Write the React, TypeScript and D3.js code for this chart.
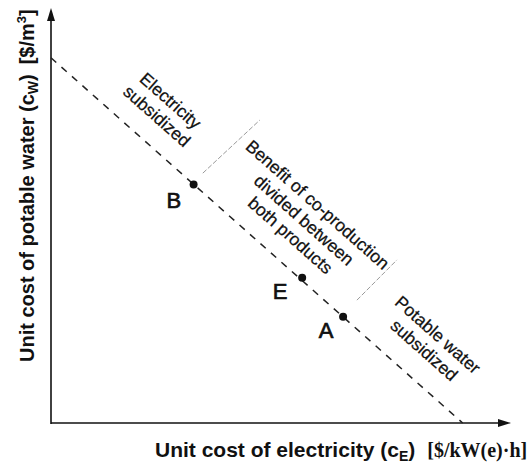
import React from "react";
import * as d3 from "d3";

// ---- data (abstract cost units) ----
const xDomain = [0, 100];
const yDomain = [0, 100];

// iso-cost line (dashed): [x, y]
const isoLine: [number, number][] = [
  [0, 88],
  [89.5, 0],
];

// operating points
const pointNames = ["B", "E", "A"];
const pointX = [31, 54.6, 63.5];
const pointY = [57.5, 35, 25.6];
const labelX = [26.7, 49.8, 59.8];
const labelY = [53.7, 31.6, 22.2];

// boundaries of the "benefit" zone (thin grey lines)
const boundary1: [number, number][] = [
  [33.0, 60.2],
  [45.4, 73.0],
];
const boundary2: [number, number][] = [
  [66.5, 29.6],
  [75.2, 39.3],
];

// region annotations
const regionLines: string[][] = [
  ["Electricity", "subsidized"],
  ["Benefit of co-production", "divided between", "both products"],
  ["Potable water", "subsidized"],
];
const regionX = [24.5, 55.0, 82.6];
const regionY = [75.8, 48.9, 19.4];

const W = 530;
const H = 463;
const SANS = "'Liberation Sans', Arial, Helvetica, sans-serif";
const SERIF = "'Liberation Serif', 'Times New Roman', serif";

export default function App() {
  const x = d3.scaleLinear().domain(xDomain).range([51, 511]);
  const y = d3.scaleLinear().domain(yDomain).range([423, 8]);
  const line = d3
    .line<[number, number]>()
    .x((d) => x(d[0]))
    .y((d) => y(d[1]));

  const dxp = x(isoLine[1][0]) - x(isoLine[0][0]);
  const dyp = y(isoLine[1][1]) - y(isoLine[0][1]);
  const angle = (Math.atan2(dyp, dxp) * 180) / Math.PI;

  const x0 = x(0);
  const y0 = y(0);
  const xEnd = x(xDomain[1]);
  const yEnd = y(yDomain[1]);

  const regionLH = 20.5;

  return (
    <svg
      width={W}
      height={H}
      viewBox={`0 0 ${W} ${H}`}
      style={{ position: "absolute", left: 0, top: 0, background: "#fff" }}
    >
      {/* axes */}
      <line x1={x0} y1={y0 + 1} x2={x0} y2={yEnd + 10} stroke="#111" strokeWidth={1.6} />
      <path d={`M${x0},${yEnd} L${x0 - 4},${yEnd + 13} L${x0 + 4},${yEnd + 13} Z`} fill="#111" />
      <line x1={x0} y1={y0} x2={xEnd - 10} y2={y0} stroke="#111" strokeWidth={1.6} />
      <path d={`M${xEnd},${y0} L${xEnd - 13},${y0 - 4} L${xEnd - 13},${y0 + 4} Z`} fill="#111" />

      {/* iso-cost dashed line */}
      <path d={line(isoLine) || ""} fill="none" stroke="#222" strokeWidth={1.5} strokeDasharray="7,7" />

      {/* zone boundaries */}
      {[boundary1, boundary2].map((b, i) => (
        <path key={i} d={line(b) || ""} fill="none" stroke="#9a9a9a" strokeWidth={1} strokeDasharray="5,2" />
      ))}

      {/* points */}
      {pointNames.map((n, i) => (
        <g key={n}>
          <circle cx={x(pointX[i])} cy={y(pointY[i])} r={4} fill="#111" />
          <text
            x={x(labelX[i])}
            y={y(labelY[i])}
            textAnchor="middle"
            dominantBaseline="central"
            fontFamily={SANS}
            fontSize={22}
            fill="#111"
            stroke="#111"
            strokeWidth={0.7}
          >
            {n}
          </text>
        </g>
      ))}

      {/* region annotations */}
      {regionLines.map((lines, i) => (
        <g key={i} transform={`translate(${x(regionX[i])},${y(regionY[i])}) rotate(${angle})`}>
          {lines.map((t, j) => (
            <text
              key={j}
              x={0}
              y={(j - (lines.length - 1) / 2) * regionLH}
              textAnchor="middle"
              dominantBaseline="central"
              fontFamily={SANS}
              fontSize={17.5}
              fill="#111"
              stroke="#111"
              strokeWidth={0.25}
            >
              {t}
            </text>
          ))}
        </g>
      ))}

      {/* x axis title */}
      <text x={155} y={457} fontFamily={SANS} fontSize={21} fontWeight="bold" fill="#111">
        Unit cost of electricity (c
        <tspan fontSize={14} dy={4}>E</tspan>
        <tspan dy={-4}>)</tspan>
        <tspan fontFamily={SERIF} fontSize={20} dx={12}>[$/kW(e)·h]</tspan>
      </text>

      {/* y axis title */}
      <text
        transform={`translate(34,362) rotate(-90)`}
        fontFamily={SANS}
        fontSize={20}
        fontWeight="bold"
        fill="#111"
      >
        Unit cost of potable water (c
        <tspan fontSize={14} dy={4}>W</tspan>
        <tspan dy={-4}>)</tspan>
        <tspan dx={10}>[$/m</tspan>
        <tspan fontSize={13} dy={-8}>3</tspan>
        <tspan dy={8}>]</tspan>
      </text>
    </svg>
  );
}
